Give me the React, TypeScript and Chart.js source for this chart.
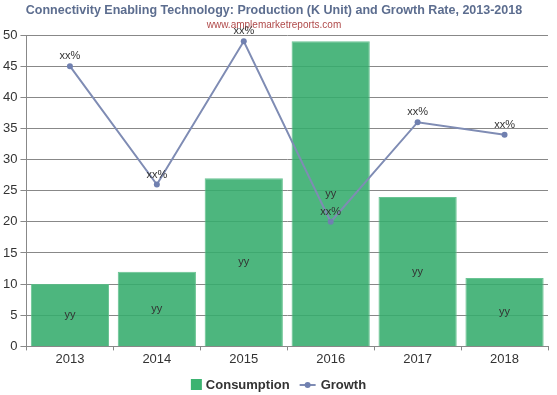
import React, { useEffect, useRef } from "react";
import { Chart, registerables } from "chart.js";

Chart.register(...registerables);

const categories = ["2013", "2014", "2015", "2016", "2017", "2018"];
const consumption = [10, 12, 27, 49, 24, 11];
const growth = [45, 26, 49, 20, 36, 34];
const barLabels = ["yy", "yy", "yy", "yy", "yy", "yy"];
const pointLabels = ["xx%", "xx%", "xx%", "xx%", "xx%", "xx%"];

const FONT = "'Liberation Sans', Arial, sans-serif";
const BAR_COLOR = "rgba(52,172,108,0.88)";
const BAR_BORDER = "rgba(90,190,135,0.9)";
const LEGEND_BAR = "#3cb371";
const LINE_COLOR = "#7f8cb4";

const labelPlugin = {
  id: "valueLabels",
  afterDatasetsDraw(chart: any) {
    const ctx = chart.ctx;
    ctx.save();
    ctx.font = `11px ${FONT}`;
    ctx.fillStyle = "#333";
    ctx.textAlign = "center";
    ctx.textBaseline = "middle";
    const yScale = chart.scales.y;
    chart.getDatasetMeta(0).data.forEach((el: any, i: number) => {
      ctx.fillText(barLabels[i], el.x, yScale.getPixelForValue(consumption[i] / 2));
    });
    chart.getDatasetMeta(1).data.forEach((el: any, i: number) => {
      ctx.fillText(pointLabels[i], el.x, el.y - 10);
    });
    ctx.restore();
  },
  afterDraw(chart: any) {
    const ctx = chart.ctx;
    ctx.save();
    ctx.font = `bold 13px ${FONT}`;
    ctx.textBaseline = "middle";
    ctx.textAlign = "left";
    const y = 385;
    const t1 = "Consumption";
    const t2 = "Growth";
    const w1 = ctx.measureText(t1).width;
    const w2 = ctx.measureText(t2).width;
    const total = 11 + 4 + w1 + 10 + 16 + 5 + w2;
    let x = (chart.width - total) / 2;
    ctx.fillStyle = LEGEND_BAR;
    ctx.fillRect(x, y - 6, 11, 11);
    x += 15;
    ctx.fillStyle = "#333";
    ctx.fillText(t1, x, y);
    x += w1 + 10;
    ctx.strokeStyle = LINE_COLOR;
    ctx.lineWidth = 2;
    ctx.beginPath();
    ctx.moveTo(x, y);
    ctx.lineTo(x + 16, y);
    ctx.stroke();
    ctx.fillStyle = "#7080b0";
    ctx.beginPath();
    ctx.arc(x + 8, y, 3, 0, Math.PI * 2);
    ctx.fill();
    x += 21;
    ctx.fillStyle = "#333";
    ctx.fillText(t2, x, y);
    ctx.restore();
  },
};

export default function App() {
  const ref = useRef<HTMLCanvasElement>(null);
  useEffect(() => {
    const chart = new Chart(ref.current!, {
      data: {
        labels: categories,
        datasets: [
          {
            type: "bar",
            label: "Consumption",
            data: consumption,
            backgroundColor: BAR_COLOR,
            borderColor: BAR_BORDER,
            borderWidth: 1,
            barPercentage: 1,
            categoryPercentage: 0.9,
            order: 2,
          },
          {
            type: "line",
            label: "Growth",
            data: growth,
            borderColor: LINE_COLOR,
            backgroundColor: LINE_COLOR,
            borderWidth: 2,
            pointRadius: 3,
            pointBackgroundColor: "#7080b0",
            pointBorderWidth: 0,
            tension: 0,
            order: 1,
          },
        ],
      } as any,
      options: {
        responsive: false,
        animation: false,
        layout: { padding: { left: 0, right: 9, top: 1, bottom: 27 } },
        plugins: {
          title: {
            display: true,
            text: "Connectivity Enabling Technology: Production (K Unit) and Growth Rate, 2013-2018",
            color: "#5c6d8f",
            font: { size: 12.5, weight: "bold", family: FONT },
            padding: { top: 2, bottom: 1 },
          },
          subtitle: {
            display: true,
            text: "www.amplemarketreports.com",
            color: "#b04a4a",
            font: { size: 10, family: FONT },
            padding: { top: 0, bottom: 4 },
          },
          legend: { display: false },
          tooltip: { enabled: false },
        },
        scales: {
          x: {
            offset: true,
            grid: { display: true, drawOnChartArea: false, drawTicks: true, tickLength: 4, color: "#888", offset: true },
            border: { color: "#888" },
            ticks: { color: "#333", font: { size: 13, family: FONT }, padding: 1 },
          },
          y: {
            min: 0,
            max: 50,
            ticks: {
              stepSize: 5,
              color: "#333",
              font: { size: 13, family: FONT },
              padding: 3,
            },
            grid: { color: "#888", tickLength: 6 },
            border: { color: "#888" },
          },
        },
      } as any,
      plugins: [labelPlugin],
    });
    return () => chart.destroy();
  }, []);
  return (
    <div style={{ position: "fixed", left: 0, top: 0 }}>
      <canvas ref={ref} width={557} height={395} />
    </div>
  );
}
